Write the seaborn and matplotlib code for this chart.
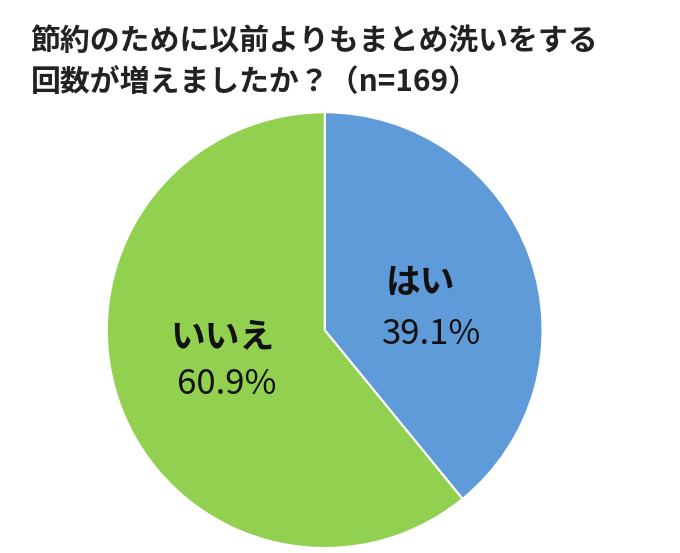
import matplotlib
matplotlib.use('Agg')
import matplotlib.pyplot as plt
import seaborn as sns

labels = ['はい', 'いいえ']
values = [39.1, 60.9]
colors = ['#5f9bd8', '#92d050']

sns.set_theme(style='white')
plt.rcParams['font.family'] = ['Noto Sans CJK JP', 'DejaVu Sans']

fig = plt.figure(figsize=(6.8, 5.53), dpi=100)
ax = fig.add_axes([0.157, 0.009, 0.641, 0.788])
ax.pie(values, colors=colors, startangle=90, counterclock=False,
       wedgeprops=dict(edgecolor='white', linewidth=1.5))
ax.set_xlim(-1, 1)
ax.set_ylim(-1, 1)
ax.set_aspect('equal')

ax.text(0.44, 0.22, labels[0], ha='center', va='center', fontsize=25, fontweight='bold', color='#111111')
ax.text(0.49, -0.02, f'{values[0]}%', ha='center', va='center', fontsize=25, color='#111111')
ax.text(-0.47, -0.03, labels[1], ha='center', va='center', fontsize=25, fontweight='bold', color='#111111')
ax.text(-0.45, -0.25, f'{values[1]}%', ha='center', va='center', fontsize=25, color='#111111')

fig.text(0.045, 0.925, '節約のために以前よりもまとめ洗いをする', fontsize=21.5, fontweight='bold', va='center', color='#222222')
fig.text(0.045, 0.852, '回数が増えましたか？（n=169）', fontsize=21.5, fontweight='bold', va='center', color='#222222')

fig.savefig('out.png', dpi=100)
